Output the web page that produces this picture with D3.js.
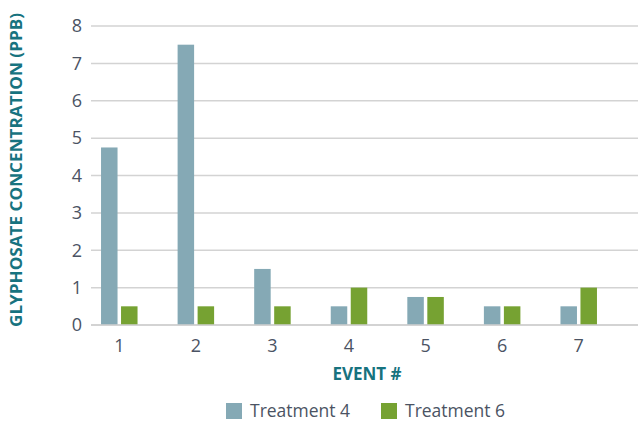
<!DOCTYPE html>
<html>
<head>
<meta charset="utf-8">
<script src="https://cdn.jsdelivr.net/npm/d3@7"></script>
<style>
  html, body { margin: 0; padding: 0; background: #fff; }
  svg { display: block; }
  text { font-family: "Open Sans", sans-serif; }
</style>
</head>
<body>
<script>
// Glyphosate concentration per event, two treatments
const events = ["1", "2", "3", "4", "5", "6", "7"];
const treatment4 = [4.75, 7.5, 1.5, 0.5, 0.75, 0.5, 0.5];
const treatment6 = [0.5, 0.5, 0.5, 1, 0.75, 0.5, 1];
const seriesNames = ["Treatment 4", "Treatment 6"];
const seriesColors = ["#85a9b5", "#76a232"];
const yTicks = [0, 1, 2, 3, 4, 5, 6, 7, 8];

const W = 638, H = 421;
const svg = d3.select("body").append("svg").attr("width", W).attr("height", H);

const x = d3.scaleBand().domain(events).range([81, 617]).paddingInner(0).paddingOuter(0);
const y = d3.scaleLinear().domain([0, 8]).range([325, 26]);

const barW = 16.5, gap = 3.5;
const sub = d3.scaleOrdinal().domain([0, 1]).range([-(barW + gap / 2), gap / 2]);

// Gridlines
svg.append("g")
  .selectAll("line")
  .data(yTicks)
  .join("line")
  .attr("x1", 91).attr("x2", 640)
  .attr("y1", d => y(d)).attr("y2", d => y(d))
  .attr("stroke", "#d3d3d3").attr("stroke-width", 1.5);

// Y axis labels
const yAxis = d3.axisLeft(y).tickValues(yTicks).tickSize(0).tickPadding(0);
const gy = svg.append("g").attr("transform", "translate(82,0)").call(yAxis);
gy.select(".domain").remove();
gy.selectAll("text").attr("font-size", 18).attr("fill", "#4b5363")
  .attr("font-family", "'Open Sans', sans-serif");

// Bars
const data = events.map((e, i) => ({ e, vals: [treatment4[i], treatment6[i]] }));
const groups = svg.append("g").selectAll("g")
  .data(data).join("g")
  .attr("transform", d => `translate(${x(d.e) + x.bandwidth() / 2},0)`);
groups.selectAll("rect")
  .data(d => d.vals.map((v, k) => ({ v, k })))
  .join("rect")
  .attr("x", d => sub(d.k))
  .attr("width", barW)
  .attr("y", d => y(d.v))
  .attr("height", d => y(0) - y(d.v))
  .attr("fill", d => seriesColors[d.k]);

// Baseline redrawn on top
svg.append("line")
  .attr("x1", 91).attr("x2", 640).attr("y1", y(0)).attr("y2", y(0))
  .attr("stroke", "#cfcfcf").attr("stroke-width", 1.5);

// X axis labels
const xAxis = d3.axisBottom(x).tickSize(0).tickPadding(0);
const gx = svg.append("g").attr("transform", "translate(0,339)").call(xAxis);
gx.select(".domain").remove();
gx.selectAll("text").attr("font-size", 18).attr("fill", "#4b5363")
  .attr("font-family", "'Open Sans', sans-serif").attr("dy", "0.71em");

// Axis titles
svg.append("text")
  .attr("x", 367).attr("y", 380)
  .attr("text-anchor", "middle")
  .attr("font-size", 17).attr("font-weight", "bold").attr("fill", "#17737f")
  .text("EVENT #");

svg.append("text")
  .attr("transform", "translate(22,170) rotate(-90)")
  .attr("text-anchor", "middle")
  .attr("font-size", 16).attr("font-weight", "bold").attr("fill", "#17737f")
  .attr("textLength", 314).attr("lengthAdjust", "spacingAndGlyphs")
  .text("GLYPHOSATE CONCENTRATION (PPB)");

// Legend
const legendX = [226, 381];
const leg = svg.append("g").selectAll("g")
  .data(seriesNames).join("g")
  .attr("transform", (d, i) => `translate(${legendX[i]},403)`);
leg.append("rect").attr("width", 16).attr("height", 16)
  .attr("fill", (d, i) => seriesColors[i]);
leg.append("text").attr("x", 24).attr("y", 14)
  .attr("font-size", 17.5).attr("fill", "#4b5363")
  .text(d => d);
</script>
</body>
</html>
